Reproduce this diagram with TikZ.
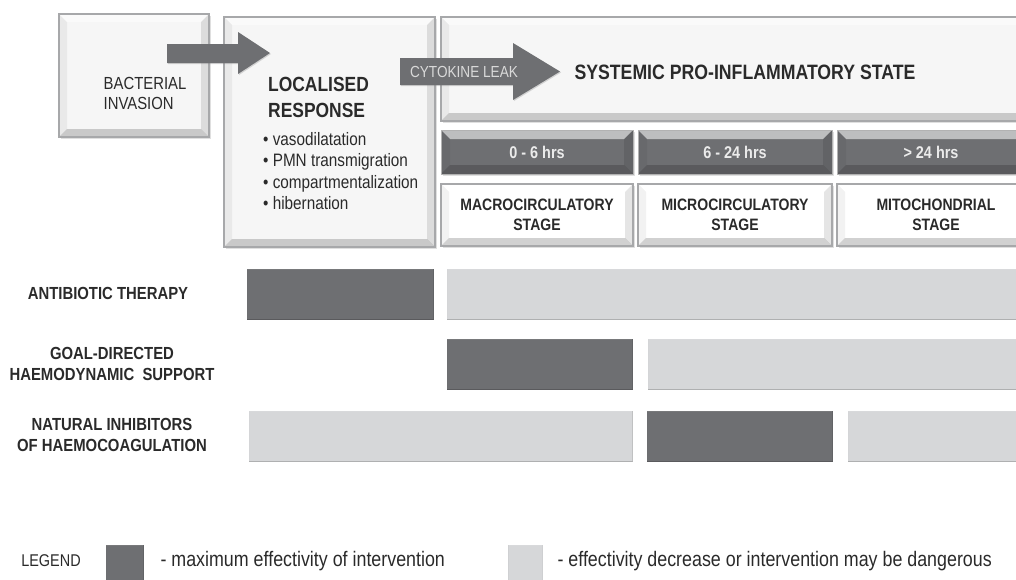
\documentclass[tikz,border=0pt]{standalone}
\usepackage{fontspec}
\setmainfont{Liberation Sans}[FakeStretch=0.85]
\usetikzlibrary{shadows}
\definecolor{fonce}{HTML}{6E6F72}
\definecolor{clair}{HTML}{D6D7D9}
\definecolor{texte}{HTML}{2A2A2A}
\definecolor{bord}{HTML}{A7A8AA}
\definecolor{face}{HTML}{F6F6F6}
\begin{document}
\begin{tikzpicture}[x=1pt,y=-1pt]
% Styles
\tikzstyle{biseau}=[path picture={
  \path (path picture bounding box.north west) coordinate (pNO) (path picture bounding box.north east) coordinate (pNE)
        (path picture bounding box.south east) coordinate (pSE) (path picture bounding box.south west) coordinate (pSO);
  \path ([shift={(#1,-#1)}]pNO) coordinate (iNO) ([shift={(-#1,-#1)}]pNE) coordinate (iNE)
        ([shift={(-#1,#1)}]pSE) coordinate (iSE) ([shift={(#1,#1)}]pSO) coordinate (iSO);
  \fill[white,opacity=.55] (pNO) -- (pNE) -- (iNE) -- (iNO) -- cycle;
  \fill[black,opacity=.05] (pNO) -- (iNO) -- (iSO) -- (pSO) -- cycle;
  \fill[black,opacity=.10] (pNE) -- (iNE) -- (iSE) -- (pSE) -- cycle;
  \fill[black,opacity=.18] (pSO) -- (iSO) -- (iSE) -- (pSE) -- cycle;}]
\tikzstyle{ombre}=[drop shadow={shadow xshift=1.5pt,shadow yshift=-1.5pt,opacity=.25}]
\tikzstyle{boite}=[draw=bord,line width=1.5pt,fill=face,biseau=8pt,ombre,inner sep=0pt,outer sep=0pt]
\tikzstyle{etape}=[boite,fill=white,text=texte,align=center,font=\fontsize{16.5}{20}\selectfont\bfseries]
\tikzstyle{entete}=[draw=gray!60,line width=1pt,fill=fonce,biseau=9pt,ombre,inner sep=0pt,
  text=white!92!black,font=\fontsize{17}{20}\selectfont\bfseries]
\tikzstyle{barre}=[draw=white,line width=3pt,biseau=2pt,inner sep=0pt,
  drop shadow={shadow xshift=0pt,shadow yshift=-1pt,opacity=.3}]
\tikzstyle{effmax}=[barre,fill=fonce]
\tikzstyle{effmin}=[barre,fill=clair]
\tikzstyle{fleche}=[fill=fonce,drop shadow={shadow xshift=1pt,shadow yshift=-1pt,opacity=.3}]
\tikzstyle{ligne}=[text=texte,align=center,font=\fontsize{17.5}{21}\selectfont\bfseries]
\tikzstyle{legende}=[text=texte,anchor=west,font=\fontsize{21}{24}\selectfont]
% Cadre
\useasboundingbox (0,0) rectangle (1016,579);
% Blocs du haut
\node[boite,minimum width=150,minimum height=123] (bacterie) at (134,75.5) {};
\node[boite,minimum width=211,minimum height=230] (local) at (329.5,132) {};
\node[boite,minimum width=599,minimum height=104] (systeme) at (740.5,69) {};
% Fleches
\path[fleche] (167,44) -- (238,44) -- (238,32) -- (270,53) -- (238,74) -- (238,63) -- (167,63) -- cycle;
\path[fleche] (400,58) -- (513,58) -- (513,43) -- (560,71.5) -- (513,100) -- (513,85) -- (400,85) -- cycle;
\node[text=white!85!black,font=\fontsize{16}{18}\selectfont] (cytokine) at (464,71.5) {CYTOKINE LEAK};
% Textes des blocs
\node[text=texte,align=left,font=\fontsize{17.5}{20}\selectfont] (tbacterie) at (145,93) {BACTERIAL\\INVASION};
\node[text=texte,align=left,anchor=north west,inner sep=0pt,font=\fontsize{20.5}{26}\selectfont\bfseries]
  (tlocal) at (268,77) {LOCALISED\\RESPONSE};
\node[text=texte,align=left,anchor=north west,inner sep=0pt,font=\fontsize{18}{21.5}\selectfont]
  (reponses) at (263,132) {\textbullet\ vasodilatation\\\textbullet\ PMN transmigration\\
  \textbullet\ compartmentalization\\\textbullet\ hibernation};
\node[text=texte,anchor=west,font=\fontsize{20.8}{24}\selectfont\bfseries] (tsysteme) at (571,72) {SYSTEMIC PRO-INFLAMMATORY STATE};
% Delais
\node[entete,minimum width=192,minimum height=44] (h1) at (537,152) {0 - 6 hrs};
\node[entete,minimum width=194,minimum height=44] (h2) at (735,152) {6 - 24 hrs};
\node[entete,minimum width=188,minimum height=44] (h3) at (931,152) {> 24 hrs};
% Stades
\node[etape,minimum width=192,minimum height=62] (s1) at (537,215) {MACROCIRCULATORY\\STAGE};
\node[etape,minimum width=194,minimum height=62] (s2) at (735,215) {MICROCIRCULATORY\\STAGE};
\node[etape,minimum width=198,minimum height=62] (s3) at (936,215) {MITOCHONDRIAL\\STAGE};
% Interventions
\node[ligne] (antibio) at (108,293) {ANTIBIOTIC THERAPY};
\node[effmax,minimum width=190,minimum height=54] (a1) at (340,294) {};
\node[effmin,minimum width=596,minimum height=54] (a2) at (743,294) {};
\node[ligne] (hemo) at (112,364) {GOAL-DIRECTED\\HAEMODYNAMIC\ \ SUPPORT};
\node[effmax,minimum width=189,minimum height=54] (g1) at (539.5,364) {};
\node[effmin,minimum width=395,minimum height=54] (g2) at (843.5,364) {};
\node[ligne] (coag) at (112,435) {NATURAL INHIBITORS\\OF HAEMOCOAGULATION};
\node[effmin,minimum width=387,minimum height=54] (n1) at (440.5,436) {};
\node[effmax,minimum width=189,minimum height=54] (n2) at (739.5,436) {};
\node[effmin,minimum width=195,minimum height=54] (n3) at (943.5,436) {};
% Legende
\node[text=texte,font=\fontsize{17}{20}\selectfont] (legende) at (51,561) {LEGEND};
\node[effmax,minimum width=41,minimum height=40] (cmax) at (124.5,563) {};
\node[legende] (tmax) at (157,561) {- maximum effectivity of intervention};
\node[effmin,minimum width=38,minimum height=40] (cmin) at (525.5,563) {};
\node[legende] (tmin) at (554,561) {- effectivity decrease or intervention may be dangerous};
\end{tikzpicture}
\end{document}
